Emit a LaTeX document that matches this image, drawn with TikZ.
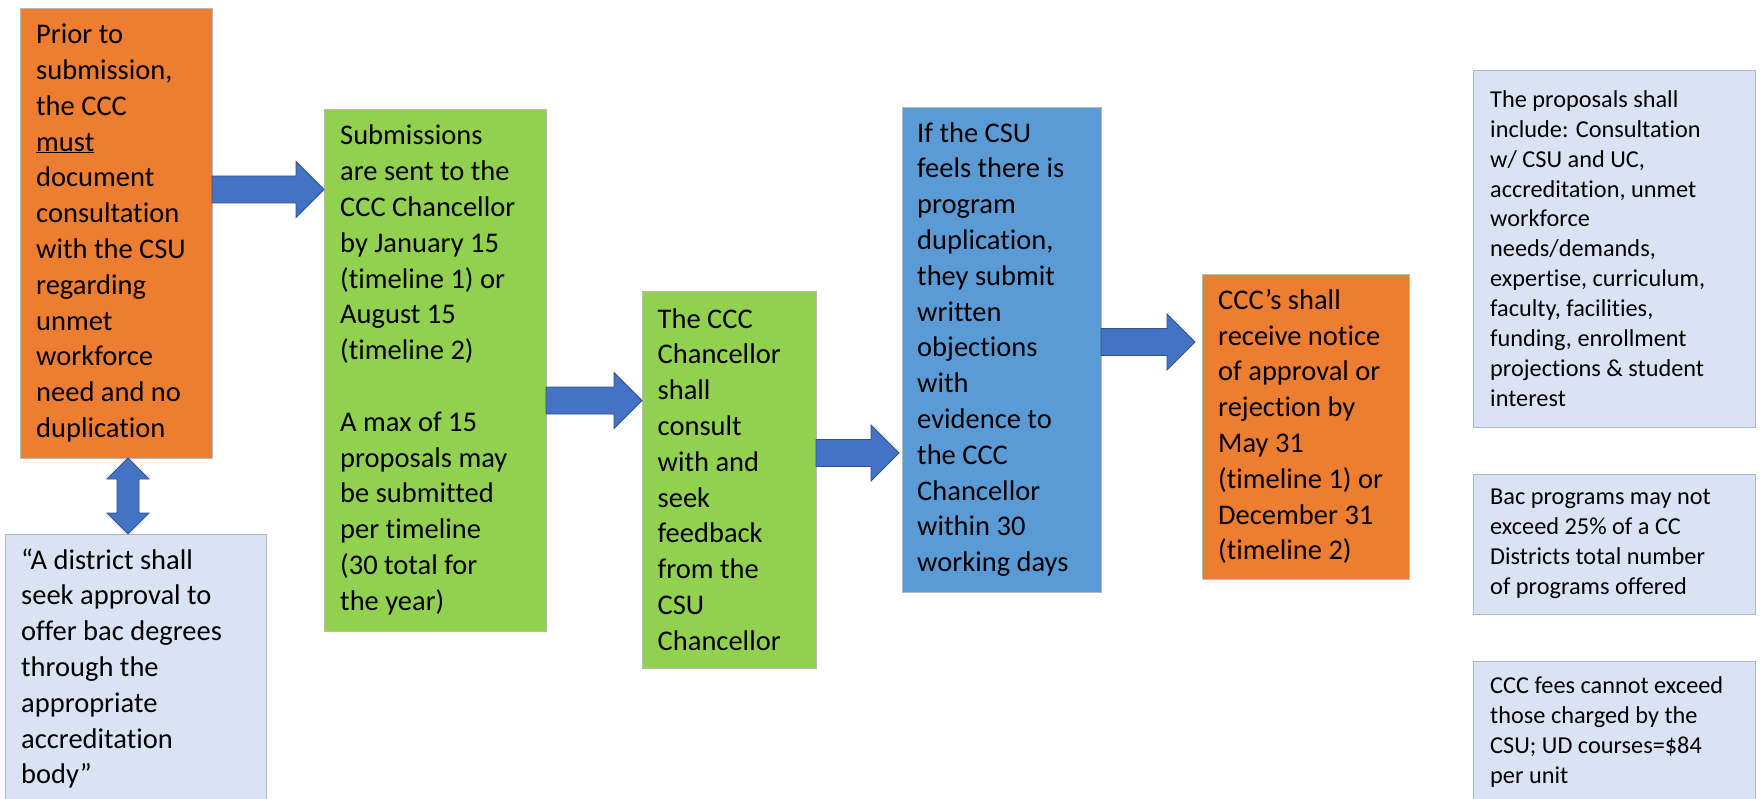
\documentclass[tikz,border=0pt]{standalone}
\usepackage{fontspec}
\setmainfont{Carlito}[Ligatures={NoCommon}]
\usetikzlibrary{calc}
\hyphenpenalty=10000
\exhyphenpenalty=10000
\definecolor{corange}{HTML}{ED7D31}
\definecolor{cgreen}{HTML}{92D050}
\definecolor{cblue}{HTML}{5B9BD5}
\definecolor{clight}{HTML}{DAE3F3}
\definecolor{clightline}{HTML}{ADB9CA}
\definecolor{carrow}{HTML}{4472C4}
\definecolor{carrowline}{HTML}{2F528F}
\newcommand{\blockarrowR}[2]{%
  \filldraw[arrowshape] ($(#1)+(0,-13.5)$) -- ($(#2)+(-28,-13.5)$) -- ($(#2)+(-28,-28)$) -- (#2)
    -- ($(#2)+(-28,28)$) -- ($(#2)+(-28,13.5)$) -- ($(#1)+(0,13.5)$) -- cycle;}
\begin{document}
\begin{tikzpicture}[x=1pt,y=-1pt,
  box/.style={rectangle, inner sep=0pt, outer sep=0pt, line width=0.8pt},
  obox/.style={box, fill=corange, draw=gray!55},
  gbox/.style={box, fill=cgreen, draw=gray!55},
  bbox/.style={box, fill=cblue, draw=gray!55},
  lbox/.style={box, fill=clight, draw=clightline},
  txt/.style={inner sep=0pt, anchor=west, align=left, text=black,
    font=\fontsize{28.5}{35.8}\selectfont},
  stxt/.style={inner sep=0pt, anchor=west, align=left, text=black,
    font=\fontsize{24.3}{29.9}\selectfont},
  arrowshape/.style={fill=carrow, draw=carrowline, line width=0.8pt, line join=miter}
]
\useasboundingbox (0,0) rectangle (1760,799);
\fill[white] (0,0) rectangle (1760,799);
\clip (0,0) rectangle (1760,799);

% boxes
\node[obox, minimum width=192, minimum height=450] (o1) at (116,233) {};
\node[gbox, minimum width=222, minimum height=522] (g1) at (435,370) {};
\node[gbox, minimum width=174, minimum height=377] (g2) at (729,479.5) {};
\node[bbox, minimum width=199, minimum height=485] (bl) at (1001.5,349.5) {};
\node[obox, minimum width=207, minimum height=305] (o2) at (1305.5,426.5) {};
\node[lbox, minimum width=260.5, minimum height=269] (lb) at (135.75,668.5) {};
\node[lbox, minimum width=282, minimum height=357] (r1) at (1614,248.5) {};
\node[lbox, minimum width=282, minimum height=140] (r2) at (1614,544) {};
\node[lbox, minimum width=282, minimum height=142] (r3) at (1614,732) {};

% texts
\node[txt] (o1t) at ($(o1.west)+(16,0)$) {Prior to\\submission,\\the CCC\\\underline{must}\\document\\consultation\\with the CSU\\regarding\\unmet\\workforce\\need and no\\duplication};
\node[txt] (g1t) at ($(g1.west)+(16,0)$) {Submissions\\are sent to the\\CCC Chancellor\\by January 15\\(timeline 1) or\\August 15\\(timeline 2)\\\mbox{}\\A max of 15\\proposals may\\be submitted\\per timeline\\(30 total for\\the year)};
\node[txt] (g2t) at ($(g2.west)+(15.5,0)$) {The CCC\\Chancellor\\shall\\consult\\with and\\seek\\feedback\\from the\\CSU\\Chancellor};
\node[txt] (blt) at ($(bl.west)+(15,0)$) {If the CSU\\feels there is\\program\\duplication,\\they submit\\written\\objections\\with\\evidence to\\the CCC\\Chancellor\\within 30\\working days};
\node[txt] (o2t) at ($(o2.west)+(16,0)$) {CCC’s shall\\receive notice\\of approval or\\rejection by\\May 31\\(timeline 1) or\\December 31\\(timeline 2)};
\node[txt] (lbt) at ($(lb.west)+(15.5,0)$) {“A district shall\\seek approval to\\offer bac degrees\\through the\\appropriate\\accreditation\\body”};
\node[stxt] (r1t) at ($(r1.west)+(17,0)$) {The proposals shall\\include: Consultation\\w/ CSU and UC,\\accreditation, unmet\\workforce\\needs/demands,\\expertise, curriculum,\\faculty, facilities,\\funding, enrollment\\projections \& student\\interest};
\node[stxt] (r2t) at ($(r2.west)+(17,0)$) {Bac programs may not\\exceed 25\% of a CC\\Districts total number\\of programs offered};
\node[stxt] (r3t) at ($(r3.west)+(17,0)$) {CCC fees cannot exceed\\those charged by the\\CSU; UD courses=\$84\\per unit};

% arrow rows
\coordinate (ay1) at (0,189.5);
\coordinate (ay2) at (0,400.5);
\coordinate (ay3) at (0,453);
\coordinate (ay4) at (0,342);
\coordinate (a1s) at (o1.east |- ay1);
\coordinate (a1e) at (g1.west |- ay1);
\coordinate (a2s) at (g1.east |- ay2);
\coordinate (a2e) at (g2.west |- ay2);
\coordinate (a3s) at (g2.east |- ay3);
\coordinate (a3e) at ($(bl.west |- ay3)+(-3,0)$);
\coordinate (a4s) at (bl.east |- ay4);
\coordinate (a4e) at ($(o2.west |- ay4)+(-7,0)$);
\blockarrowR{a1s}{a1e}
\blockarrowR{a2s}{a2e}
\blockarrowR{a3s}{a3e}
\blockarrowR{a4s}{a4e}

% double arrow
\coordinate (dx) at (128,0);
\coordinate (dt) at (o1.south -| dx);
\coordinate (db) at (lb.north -| dx);
\filldraw[arrowshape] (dt) -- ($(dt)+(21,21)$) -- ($(dt)+(11,21)$) -- ($(db)+(11,-21)$) -- ($(db)+(21,-21)$)
  -- (db) -- ($(db)+(-21,-21)$) -- ($(db)+(-11,-21)$) -- ($(dt)+(-11,21)$) -- ($(dt)+(-21,21)$) -- cycle;
\end{tikzpicture}
\end{document}
